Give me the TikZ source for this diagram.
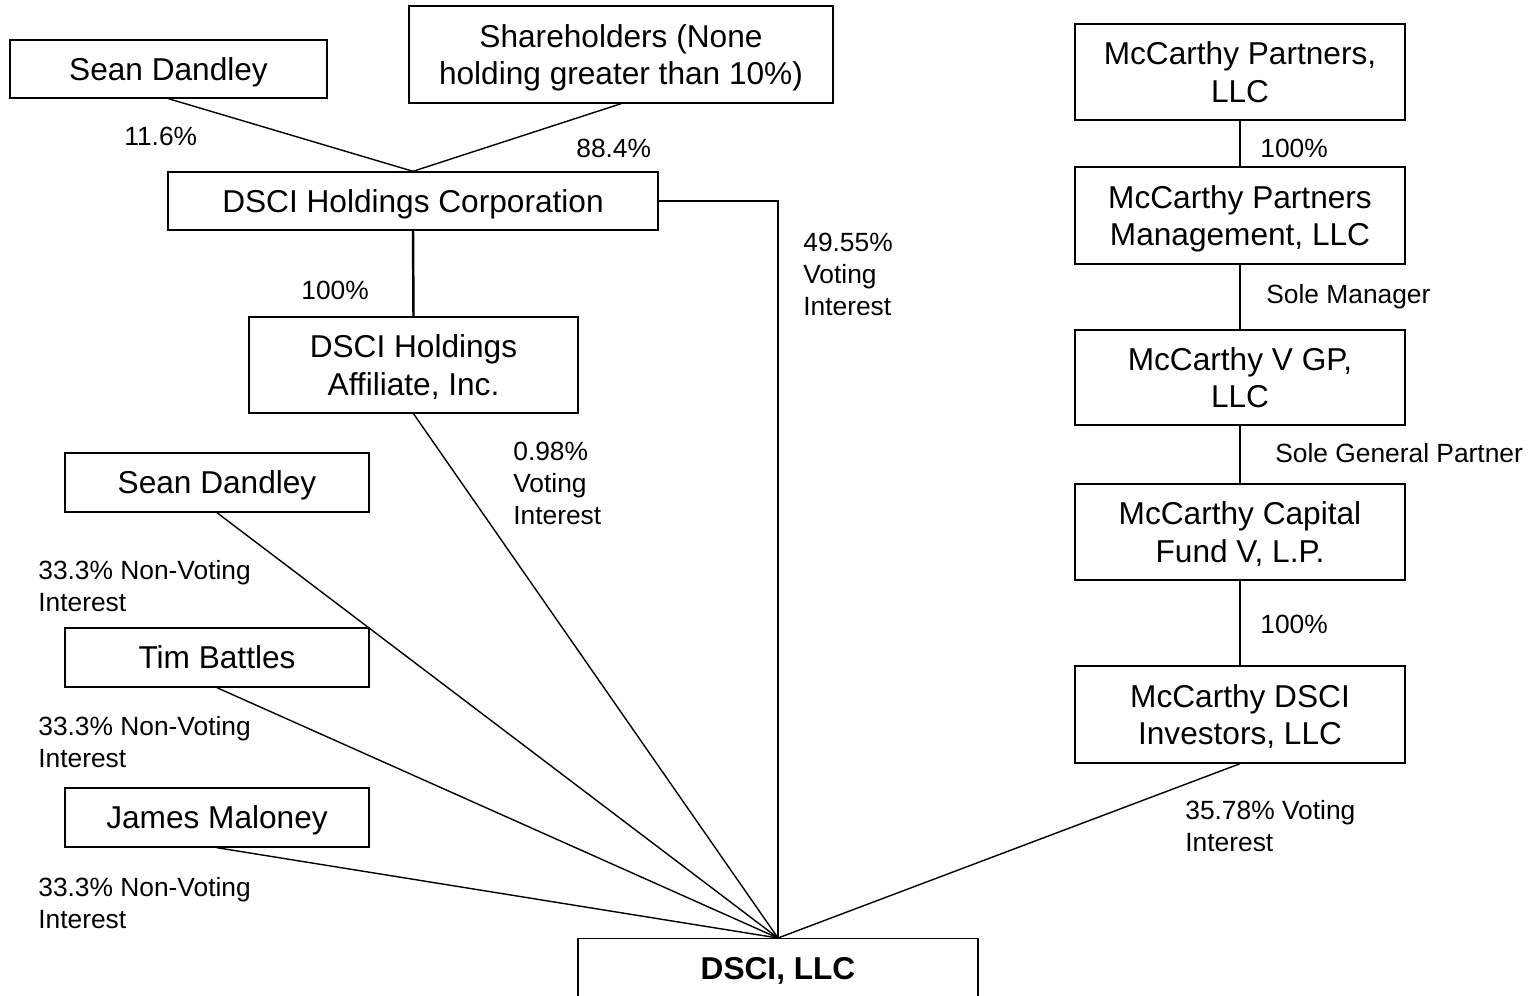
\documentclass[tikz,border=0pt]{standalone}
\usepackage{fontspec}
\setmainfont{Liberation Sans}
\usetikzlibrary{calc}

\tikzset{
  ownbox/.style={draw, line width=0.8pt, align=center, inner sep=0pt, text depth=0pt,
    font=\fontsize{18}{21.5}\selectfont},
  pct/.style={anchor=west, align=left, inner sep=0pt,
    font=\fontsize{15}{18}\selectfont},
  link/.style={line width=0.8pt}
}

\begin{document}
\begin{tikzpicture}[x=0.02cm, y=-0.02cm]
      \useasboundingbox (0,0) rectangle (1532,995);
      % left side owners
      \node[ownbox, minimum width=6.34cm, minimum height=1.16cm] (sd1) at (168.5,69) {Sean Dandley};
      \node[ownbox, minimum width=8.48cm, minimum height=1.94cm] (share) at (621,54.5) {Shareholders (None\\holding greater than 10\%)};
      \node[ownbox, minimum width=9.8cm, minimum height=1.16cm] (corp) at (413,201) {DSCI Holdings Corporation};
      \node[ownbox, minimum width=6.58cm, minimum height=1.92cm] (affil) at (413.5,365) {DSCI Holdings\\Affiliate, Inc.};
      \node[ownbox, minimum width=6.08cm, minimum height=1.18cm] (sd2) at (217,482.5) {Sean Dandley};
      \node[ownbox, minimum width=6.08cm, minimum height=1.18cm] (tim) at (217,657.5) {Tim Battles};
      \node[ownbox, minimum width=6.08cm, minimum height=1.18cm] (james) at (217,817.5) {James Maloney};
      \node[ownbox, minimum width=8cm, minimum height=1.2cm, anchor=north] (llc) at (778,938) {\bfseries DSCI, LLC};
      % McCarthy chain
      \node[ownbox, minimum width=6.6cm, minimum height=1.92cm] (mp) at (1240,72) {McCarthy Partners,\\LLC};
      \node[ownbox, minimum width=6.6cm, minimum height=1.94cm] (mpm) at (1240,215.5) {McCarthy Partners\\Management, LLC};
      \node[ownbox, minimum width=6.6cm, minimum height=1.9cm] (gp) at (1240,377.5) {McCarthy V GP,\\LLC};
      \node[ownbox, minimum width=6.6cm, minimum height=1.92cm] (fund) at (1240,532) {McCarthy Capital\\Fund V, L.P.};
      \node[ownbox, minimum width=6.6cm, minimum height=1.94cm] (inv) at (1240,714.5) {McCarthy DSCI\\Investors, LLC};

      \draw[link] (sd1.south) -- (corp.north);
      \draw[link] (share.south) -- (corp.north);
      \draw[line width=1.4pt] (corp.south) -- (affil.north);
      \draw[link] (corp.east) -| (llc.north);
      \draw[link] (affil.south) -- (llc.north);
      \draw[link] (sd2.south) -- (llc.north);
      \draw[link] (tim.south) -- (llc.north);
      \draw[link] (james.south) -- (llc.north);
      \draw[link] (inv.south) -- (llc.north);
      \draw[link] (mp.south) -- (mpm.north);
      \draw[link] (mpm.south) -- (gp.north);
      \draw[link] (gp.south) -- (fund.north);
      \draw[link] (fund.south) -- (inv.north);

      % percentages
      \node[pct] (p116) at (124,136) {11.6\%};
      \node[pct] (p884) at (576,148) {88.4\%};
      \node[pct] (p100a) at (301,290) {100\%};
      \node[pct] (p4955) at (803,274.5) {49.55\%\\Voting\\Interest};
      \node[pct] (p098) at (513,483.5) {0.98\%\\Voting\\Interest};
      \node[pct] (nv1) at (38,586) {33.3\% Non-Voting\\Interest};
      \node[pct] (nv2) at (38,742) {33.3\% Non-Voting\\Interest};
      \node[pct] (nv3) at (38,903) {33.3\% Non-Voting\\Interest};
      \node[pct] (p3578) at (1185,826) {35.78\% Voting\\Interest};
      \node[pct] (p100b) at (1260,148) {100\%};
      \node[pct] (mgr) at (1266,297) {Sole Manager};
      \node[pct] (gen) at (1275,453) {Sole General Partner};
      \node[pct] (p100c) at (1260,624) {100\%};
\end{tikzpicture}
\end{document}
